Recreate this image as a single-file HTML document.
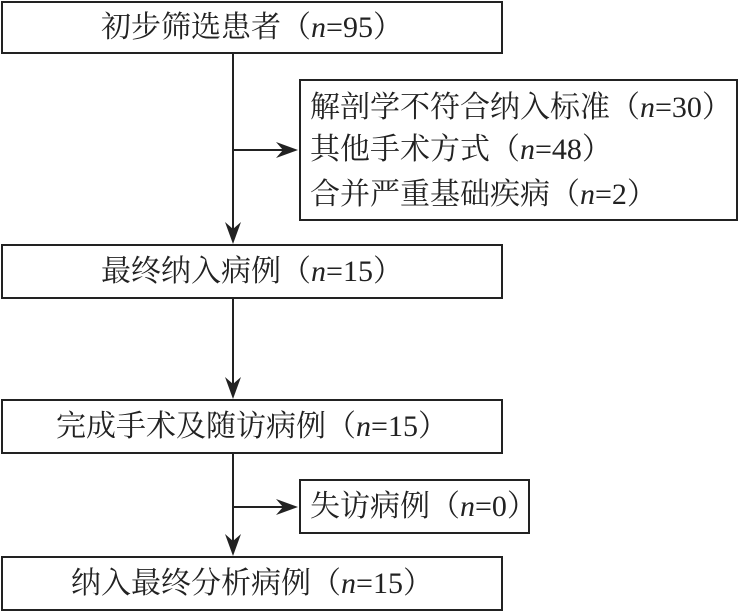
<!DOCTYPE html>
<html><head><meta charset="utf-8"><style>
html,body{margin:0;padding:0;background:#fff;}
#c{position:relative;width:738px;height:612px;overflow:hidden;font-family:"Liberation Serif","Noto Serif CJK SC","Noto Sans CJK SC",serif;color:#222;}
.b{position:absolute;border:2px solid #222;box-sizing:border-box;}
.t{position:absolute;font-size:30px;line-height:30px;white-space:nowrap;}
.t i{font-style:italic;}
.ln{position:absolute;background:#222;}
</style></head><body><div id="c">
<div class="b" style="left:1px;top:1px;width:502px;height:53px;"></div>
<div class="t" style="left:0;width:504px;text-align:center;top:13px;">初步筛选患者（<i>n</i>=95）</div>

<div class="b" style="left:299px;top:79px;width:439px;height:142px;"></div>
<div class="t" style="left:310px;top:93px;">解剖学不符合纳入标准（<i>n</i>=30）</div>
<div class="t" style="left:310px;top:135px;">其他手术方式（<i>n</i>=48）</div>
<div class="t" style="left:310px;top:180px;">合并严重基础疾病（<i>n</i>=2）</div>

<div class="b" style="left:1px;top:244px;width:502px;height:55px;"></div>
<div class="t" style="left:0;width:504px;text-align:center;top:257px;">最终纳入病例（<i>n</i>=15）</div>

<div class="b" style="left:1px;top:399px;width:502px;height:55px;"></div>
<div class="t" style="left:0;width:504px;text-align:center;top:412px;">完成手术及随访病例（<i>n</i>=15）</div>

<div class="b" style="left:299px;top:479px;width:231px;height:55px;"></div>
<div class="t" style="left:310px;top:492px;">失访病例（<i>n</i>=0）</div>

<div class="b" style="left:1px;top:556px;width:502px;height:55px;"></div>
<div class="t" style="left:0;width:504px;text-align:center;top:569px;">纳入最终分析病例（<i>n</i>=15）</div>

<svg width="738" height="612" style="position:absolute;left:0;top:0;">
<g stroke="#222" stroke-width="2" fill="none">
<line x1="233" y1="54" x2="233" y2="236"/>
<line x1="233" y1="150" x2="290" y2="150"/>
<line x1="233" y1="299" x2="233" y2="391"/>
<line x1="233" y1="454" x2="233" y2="548"/>
<line x1="233" y1="507" x2="290" y2="507"/>
</g>
<g fill="#222">
<path d="M233 244 L225 222 L233 229 L241 222 Z"/>
<path d="M298 150 L276 142 L283 150 L276 158 Z"/>
<path d="M233 399 L225 377 L233 384 L241 377 Z"/>
<path d="M233 556 L225 534 L233 541 L241 534 Z"/>
<path d="M298 507 L276 499 L283 507 L276 515 Z"/>
</g>
</svg>
</div></body></html>
